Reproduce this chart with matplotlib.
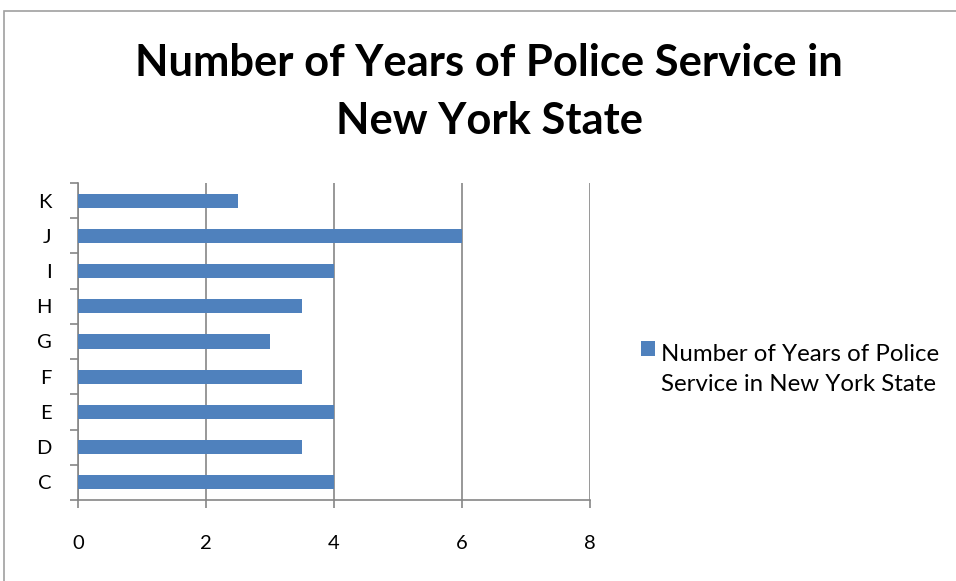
import matplotlib.pyplot as plt
from matplotlib.patches import Rectangle
from matplotlib.legend_handler import HandlerPatch

categories = ["C", "D", "E", "F", "G", "H", "I", "J", "K"]
values = [4, 3.5, 4, 3.5, 3, 3.5, 4, 6, 2.5]
xticks = [0, 2, 4, 6, 8]
title = "Number of Years of Police Service in\nNew York State"
series_name = "Number of Years of Police\nService in New York State"

plt.rcParams['font.family'] = ['Lato', 'DejaVu Sans']

W, H = 956, 581
fig = plt.figure(figsize=(W / 100, H / 100), dpi=100)
fig.patch.set_facecolor('white')

# outer chart border (extends past right/bottom edges)
fig.patches.append(Rectangle((4 / W, -0.1), 1.2, 1 - 11 / H + 0.1, transform=fig.transFigure,
                             fill=False, edgecolor='#a0a0a0', linewidth=1.2))

ax = fig.add_axes([78 / W, 1 - 500 / H, (590 - 78) / W, (500 - 183) / H])
bar_color = '#4F81BD'
bars = ax.barh(range(len(categories)), values, height=0.4, color=bar_color, label=series_name, zorder=3)
ax.set_xlim(0, 8)
ax.set_ylim(-0.5, len(categories) - 0.5)
ax.set_xticks(xticks)
ax.set_xticklabels([str(t) for t in xticks])
ax.set_yticks(range(len(categories)))
ax.set_yticklabels(categories)
ax.set_yticks([i - 0.5 for i in range(len(categories) + 1)], minor=True)
ax.tick_params(axis='y', which='major', length=0, pad=19, labelsize=14.5)
ax.tick_params(axis='y', which='minor', length=6, color='#868686', width=1.2, direction='out')
ax.tick_params(axis='x', which='major', length=6, color='#868686', width=1.2, pad=19, labelsize=14.5)
ax.grid(axis='x', color='#868686', linewidth=1.2, zorder=0)
for s in ['top', 'right']:
    ax.spines[s].set_visible(False)
for s in ['left', 'bottom']:
    ax.spines[s].set_color('#868686')
    ax.spines[s].set_linewidth(1.2)

fig.text(489 / W, 1 - 92 / H, title, ha='center', va='center', fontsize=31.3,
         fontweight='bold', linespacing=1.55)


def top_square(legend, orig_handle, xdescent, ydescent, width, height, fontsize):
    s = 0.6 * fontsize
    return Rectangle((-xdescent, -ydescent + height - s + 0.25 * fontsize), s, s)


handle = bars.patches[0]
leg = fig.legend(handles=[handle], labels=[series_name], loc='upper left',
                 bbox_to_anchor=(619 / W, 1 - 322 / H), frameon=False,
                 fontsize=17.3, handlelength=0.68, handleheight=2.6, handletextpad=0.15,
                 handler_map={Rectangle: HandlerPatch(patch_func=top_square)})
for t in leg.get_texts():
    t.set_linespacing(1.55)

fig.savefig('out.png', dpi=100)
